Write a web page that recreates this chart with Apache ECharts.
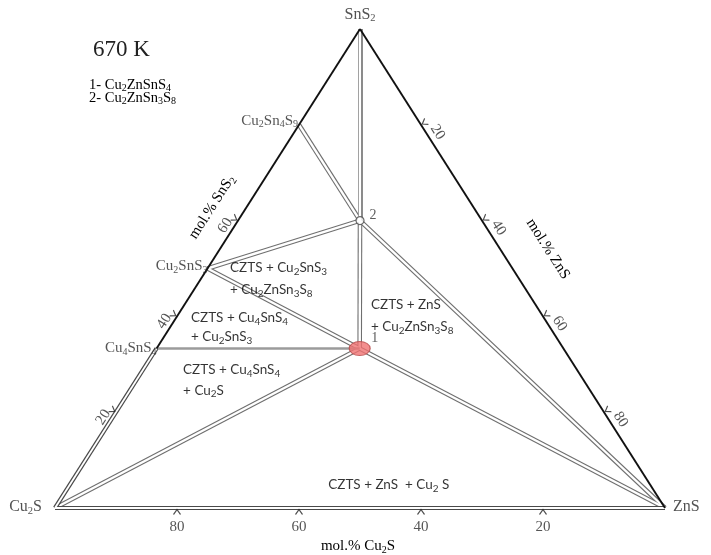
<!DOCTYPE html>
<html>
<head>
<meta charset="utf-8">
<script src="https://cdn.jsdelivr.net/npm/echarts@6/dist/echarts.min.js"></script>
<style>
html,body{margin:0;padding:0;background:#fff}
#chart{width:711px;height:555px}
</style>
</head>
<body>
<div id="chart"></div>
<script>
// Phases of the Cu2S–ZnS–SnS2 section, compositions in mol.%
const phaseNames = ['Cu2S', 'ZnS', 'SnS2', 'Cu2Sn4S9', 'Cu2SnS3', 'Cu4SnS4', '1', '2'];
const phaseCu2S  = [100, 0, 0, 20, 50, 66.7, 33.3, 20];
const phaseZnS   = [0, 100, 0, 0, 0, 0, 33.3, 20];
const phaseSnS2  = [0, 0, 100, 80, 50, 33.3, 33.3, 60];

// Tie lines (double-ruled) and the single grey tie line
const tieLines = [
  ['SnS2', '2'], ['2', '1'], ['Cu2Sn4S9', '2'], ['Cu2SnS3', '2'],
  ['Cu2SnS3', '1'], ['Cu2S', '1'], ['ZnS', '1'], ['ZnS', '2']
];
const greyTieLines = [['Cu4SnS4', '1']];

// Axis ticks (mol.%)
const ticksCu2S = [80, 60, 40, 20];
const ticksSnS2 = [20, 40, 60];
const ticksZnS  = [20, 40, 60, 80];

// Phase-field annotations, one entry per text line
const fieldLines = [
  'CZTS + Cu_2SnS_3', '+ Cu_2ZnSn_3S_8',
  'CZTS + ZnS', '+ Cu_2ZnSn_3S_8',
  'CZTS + Cu_4SnS_4', '+ Cu_2SnS_3',
  'CZTS + Cu_4SnS_4', '+ Cu_2S',
  'CZTS + ZnS  + Cu_2 S'
];
// anchor of each annotation line (plot units, left edge / vertical middle)
const fieldAnchors = [
  [28.7, 50.1], [28.7, 45.5],
  [51.8, 42.4], [51.8, 37.8],
  [22.3, 39.7], [22.3, 35.7],
  [21.0, 28.8], [21.0, 24.6],
  [44.8, 4.8]
];

const vertexLabels   = { 'Cu2S': 'Cu_2S', 'ZnS': 'ZnS', 'SnS2': 'SnS_2' };
const compoundLabels = { 'Cu2Sn4S9': 'Cu_2Sn_4S_9', 'Cu2SnS3': 'Cu_2SnS_3', 'Cu4SnS4': 'Cu_4SnS_4' };
const keyLines = ['1- Cu_2ZnSnS_4', '2- Cu_2ZnSn_3S_8'];
const temperature = '670 K';

// ---------- helpers ----------
const SERIF = '"Liberation Serif", "DejaVu Serif", serif';
const SANS = 'Lato, "Noto Sans", sans-serif';

function comp(name) {
  const i = phaseNames.indexOf(name);
  return [phaseCu2S[i], phaseZnS[i], phaseSnS2[i]];
}
// ternary -> plot coordinates (Cu2S left, ZnS right, SnS2 apex)
function xy(c) { return [c[1] + c[2] / 2, c[2]]; }
function P(name) { return xy(comp(name)); }

// "Cu_2S" -> rich text with subscripts
function chem(s) {
  return ('{n|' + s.replace(/_(\d)/g, '}{s|$1}{n|') + '}').replace(/\{n\|\}/g, '');
}
function richSet(family, size, color, lh, subSize, drop) {
  return {
    n: { fontFamily: family, fontSize: size, color: color, lineHeight: lh },
    s: { fontFamily: family, fontSize: subSize, color: color, lineHeight: subSize, padding: [drop, 0, 0, 0] }
  };
}
const serifRich16 = richSet(SERIF, 16, '#262626', 19, 10.5, 8);
const serifRich15 = richSet(SERIF, 15, '#2b2b2b', 18, 10, 8);
const serifKey = richSet(SERIF, 14.5, '#2b2b2b', 17, 10, 7);
const sansRich = richSet(SANS, 13.5, '#000', 18, 10, 7);

const chart = echarts.init(document.getElementById('chart'), null, { renderer: 'canvas' });

// edges of the triangle
const edgeBlack = [
  { coords: [P('Cu4SnS4'), P('SnS2')] },
  { coords: [P('SnS2'), P('ZnS')] }
];
const edgeDouble = [
  { coords: [P('Cu2S'), P('ZnS')] },
  { coords: [P('Cu2S'), P('Cu4SnS4')] }
];
const tieData = tieLines.map(t => ({ coords: [P(t[0]), P(t[1])] }));
const greyData = greyTieLines.map(t => ({ coords: [P(t[0]), P(t[1])] }));

// chevron tick marks
const chevron = 'path://M0,10L6,0L12,10';
function tickPts(vals, f) { return vals.map(v => ({ value: xy(f(v)), label: String(v) })); }
const bottomTicks = tickPts(ticksCu2S, v => [v, 100 - v, 0]);
const leftTicks   = tickPts(ticksSnS2, v => [100 - v, 0, v]);
const rightTicks  = tickPts(ticksZnS,  v => [0, v, 100 - v]);

function tickSeries(data, rot, off, labelOff, labelRot) {
  return {
    type: 'scatter', z: 6, silent: true,
    symbol: chevron, symbolSize: [7, 5], symbolRotate: rot, symbolOffset: off,
    itemStyle: { color: 'transparent', borderColor: '#222', borderWidth: 1.1 },
    label: {
      show: true, position: 'inside', offset: labelOff, rotate: labelRot,
      formatter: p => p.data.label,
      fontFamily: SERIF, fontSize: 15, color: '#2b2b2b'
    },
    data: data
  };
}

const nameLbl = (name, pos, dist, off, rich) => ({
  value: P(name),
  label: { show: true, position: pos, distance: dist, offset: off,
    formatter: chem(name in vertexLabels ? vertexLabels[name] : compoundLabels[name]), rich: rich }
});

const option = {
  animation: false,
  backgroundColor: '#fff',
  grid: { left: 55, right: 46, top: 29, bottom: 47 },
  xAxis: { type: 'value', min: 0, max: 100, show: false },
  yAxis: { type: 'value', min: 0, max: 100, show: false },
  graphic: [
    { type: 'text', x: 93, y: 50, style: { text: temperature, fontFamily: SERIF, fontSize: 23, fill: '#222', verticalAlign: 'middle' } },
    { type: 'text', x: 89, y: 85, style: { text: chem(keyLines[0]), rich: serifKey, verticalAlign: 'middle' } },
    { type: 'text', x: 89, y: 98, style: { text: chem(keyLines[1]), rich: serifKey, verticalAlign: 'middle' } },
    { type: 'text', x: 358, y: 546, style: { text: chem('mol.% Cu_2S'), rich: serifRich15, align: 'center', verticalAlign: 'middle' } },
    { type: 'text', x: 212, y: 207, rotation: 57.5 * Math.PI / 180, style: { text: chem('mol.% SnS_2'), rich: serifRich15, align: 'center', verticalAlign: 'middle' } },
    { type: 'text', x: 548, y: 249, rotation: -57.5 * Math.PI / 180, style: { text: chem('mol.% ZnS'), rich: serifRich15, align: 'center', verticalAlign: 'middle' } }
  ],
  series: [
    // double-ruled tie lines: dark outer stroke, white core
    { type: 'lines', coordinateSystem: 'cartesian2d', z: 2, silent: true,
      lineStyle: { color: '#6f6f6f', width: 4.6, opacity: 1 }, data: tieData },
    { type: 'lines', coordinateSystem: 'cartesian2d', z: 3, silent: true,
      lineStyle: { color: '#fff', width: 2.4, opacity: 1 }, data: tieData },
    { type: 'lines', coordinateSystem: 'cartesian2d', z: 4, silent: true,
      lineStyle: { color: '#9b9b9b', width: 2.6, opacity: 1 }, data: greyData },
    // triangle edges
    { type: 'lines', coordinateSystem: 'cartesian2d', z: 5, silent: true,
      lineStyle: { color: '#4a4a4a', width: 4.2, opacity: 1 }, data: edgeDouble },
    { type: 'lines', coordinateSystem: 'cartesian2d', z: 5, silent: true,
      lineStyle: { color: '#fff', width: 1.8, opacity: 1 }, data: edgeDouble },
    { type: 'lines', coordinateSystem: 'cartesian2d', z: 5, silent: true,
      lineStyle: { color: '#111', width: 1.9, opacity: 1 }, data: edgeBlack },
    // ticks
    tickSeries(bottomTicks, 0, [0, 4], [0, 15], 0),
    tickSeries(leftTicks, -122.5, [-3.4, -2.1], [-11, -4], 57.5),
    tickSeries(rightTicks, 122.5, [3.4, -2.1], [15, -6], -57.5),
    // CZTS field (point 1)
    { type: 'scatter', z: 8, silent: true, symbol: 'circle', symbolSize: [21, 14],
      itemStyle: { color: '#f07272', borderColor: '#b84a4a', borderWidth: 1 },
      data: [P('1')] },
    // Cu2ZnSn3S8 (point 2)
    { type: 'scatter', z: 8, silent: true, symbol: 'circle', symbolSize: 8,
      itemStyle: { color: '#fff', borderColor: '#444', borderWidth: 1.2 },
      data: [P('2')] },
    // point numbers
    { type: 'scatter', z: 9, silent: true, symbolSize: 0,
      label: { show: true, position: 'inside', formatter: p => p.data.t,
        fontFamily: SERIF, fontSize: 14, color: '#333' },
      data: [
        { value: P('1'), t: '1', label: { offset: [15, -10] } },
        { value: P('2'), t: '2', label: { offset: [13, -5] } }
      ] },
    // vertex and binary compound labels
    { type: 'scatter', z: 9, silent: true, symbolSize: 0,
      data: [
        nameLbl('SnS2', 'top', 5, [0, 0], serifRich16),
        nameLbl('Cu2S', 'left', 13, [0, -1], serifRich16),
        nameLbl('ZnS', 'right', 8, [0, -1], serifRich16),
        nameLbl('Cu2Sn4S9', 'left', 1, [0, -4], serifRich15),
        nameLbl('Cu2SnS3', 'left', 0, [0, -2], serifRich15),
        nameLbl('Cu4SnS4', 'left', 0, [0, 0], serifRich15)
      ] },
    // phase-field annotations
    { type: 'scatter', z: 9, silent: true, symbolSize: 0,
      label: { show: true, position: 'right', distance: 0, formatter: p => chem(p.data.t), rich: sansRich },
      data: fieldLines.map((t, i) => ({ value: fieldAnchors[i], t: t })) }
  ]
};
chart.setOption(option);
</script>
</body>
</html>
